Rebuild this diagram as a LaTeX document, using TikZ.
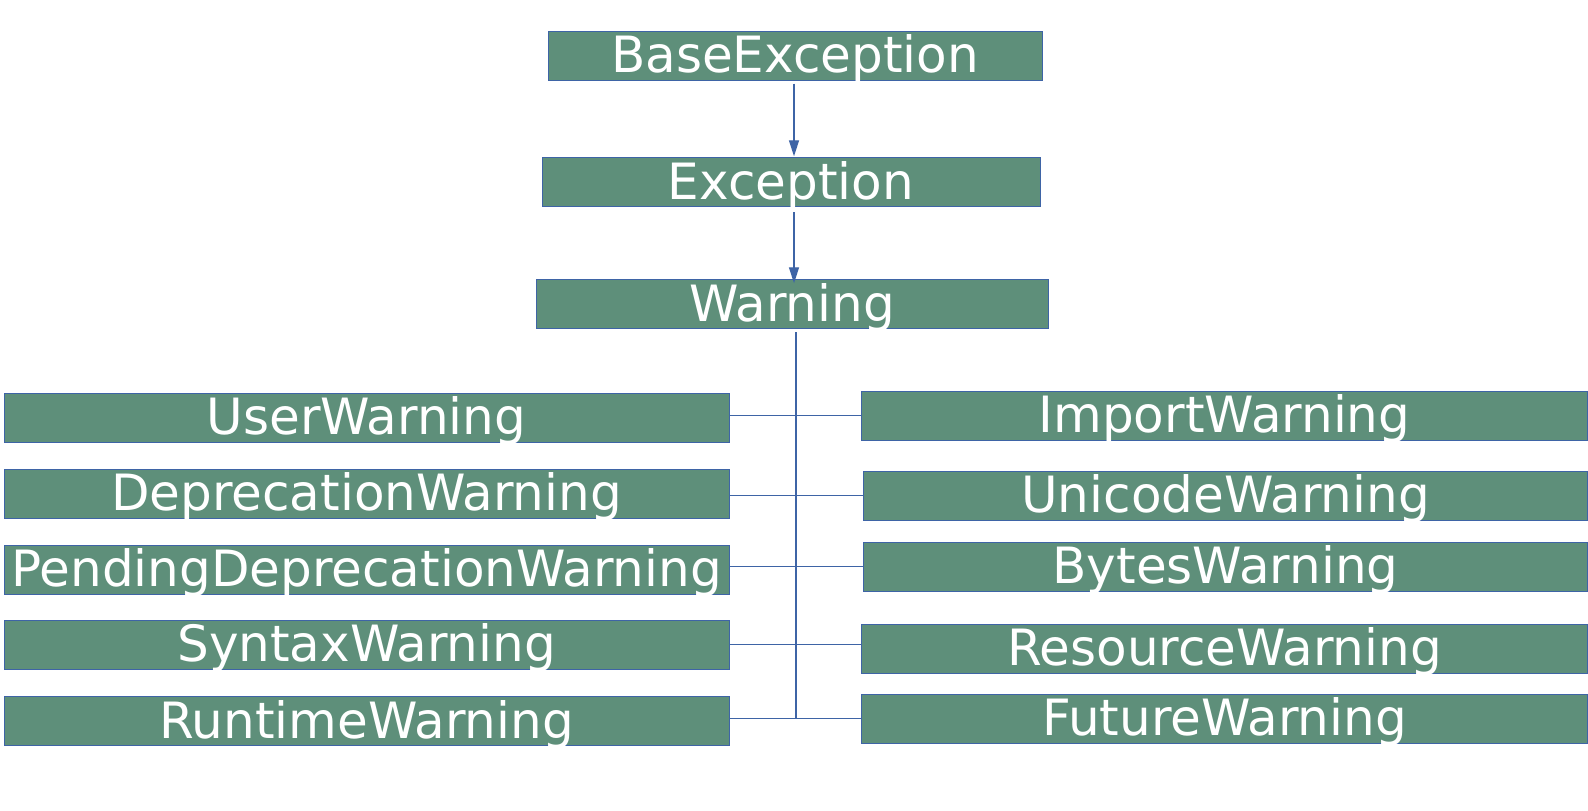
\documentclass[tikz,border=0pt]{standalone}
\usepackage{fontspec}
\setmainfont{DejaVu Sans}
\usetikzlibrary{arrows.meta}
\definecolor{boxgreen}{HTML}{5E8F7A}
\definecolor{lineblue}{HTML}{3E64A6}
\begin{document}
\begin{tikzpicture}[x=0.5pt,y=-0.5pt,
  cls/.style={draw=lineblue, line width=0.5pt, fill=boxgreen, text=white,
    font=\fontsize{25}{30}\selectfont, inner xsep=0pt, inner ysep=0pt,
    text height=20.75pt, text depth=3.75pt},
  conn/.style={draw=lineblue, line width=0.6pt},
  arr/.style={conn, -{Triangle[length=8pt,width=5pt]}}]
\useasboundingbox (0,0) rectangle (1588,810);
% top chain
\node[cls, minimum width=247pt] (base) at (795,55.7) {BaseException};
\node[cls, minimum width=249pt] (exc) at (791,182.3) {Exception};
\node[cls, minimum width=256pt] (warn) at (792,304.3) {Warning};
% left column
\node[cls, minimum width=362.5pt] (user) at (366.5,417.5) {UserWarning};
\node[cls, minimum width=362.5pt] (dep) at (366.5,493.7) {DeprecationWarning};
\node[cls, minimum width=362.5pt] (pend) at (366.5,569.5) {PendingDeprecationWarning};
\node[cls, minimum width=362.5pt] (syn) at (366.5,644.8) {SyntaxWarning};
\node[cls, minimum width=362.5pt] (run) at (366.5,721) {RuntimeWarning};
% right column
\node[cls, minimum width=363pt] (imp) at (1224.5,415.8) {ImportWarning};
\node[cls, minimum width=362pt] (uni) at (1225.5,495.6) {UnicodeWarning};
\node[cls, minimum width=362pt] (byt) at (1225.5,566.7) {BytesWarning};
\node[cls, minimum width=363pt] (res) at (1224.5,648.7) {ResourceWarning};
\node[cls, minimum width=363pt] (fut) at (1224.5,718.8) {FutureWarning};
% arrows
\draw[arr] ([xshift=-0.5pt,yshift=-1.5pt]base.south) -- ([xshift=-0.5pt,yshift=0.5pt]base.south |- exc.north);
\draw[arr] ([xshift=-0.5pt,yshift=-2.5pt]base.south |- exc.south) -- ([xshift=-0.5pt,yshift=-2pt]base.south |- warn.north);
% trunk
\coordinate (trend) at (796,719);
\draw[conn] ([xshift=2pt,yshift=-1.5pt]warn.south) -- (trend);
% branches
\draw[conn] (user.east |- imp.west) -- (imp.west);
\draw[conn] (dep.east |- uni.west) -- (uni.west);
\draw[conn] (pend.east |- byt.west) -- (byt.west);
\draw[conn] (syn.east) -- (syn.east -| res.west);
\draw[conn] (run.east |- fut.west) -- (fut.west);
\end{tikzpicture}
\end{document}
